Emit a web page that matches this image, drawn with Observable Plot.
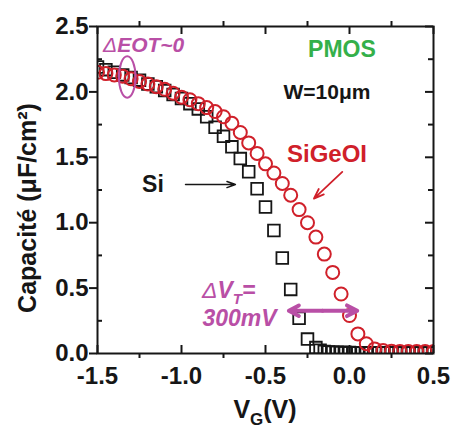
<!DOCTYPE html>
<html><head><meta charset="utf-8">
<script src="https://cdn.jsdelivr.net/npm/d3@7"></script>
<script src="https://cdn.jsdelivr.net/npm/@observablehq/plot@0.6"></script>
<style>body{margin:0;background:#fff}#chart svg{display:block}</style>
</head><body><div id="chart"></div>
<script>
// ---- data ----
const vgSi = [-1.5,-1.45,-1.4,-1.35,-1.3,-1.25,-1.2,-1.15,-1.1,-1.05,-1.0,-0.95,-0.9,-0.85,-0.8,-0.75,-0.7,-0.65,-0.6,-0.55,-0.5,-0.45,-0.4,-0.35,-0.3,-0.25,-0.2,
  -0.175,-0.15,-0.125,-0.1,-0.075,-0.05,-0.025,0,0.025,0.05,0.075,0.1,0.125,0.15,0.175,0.2,0.225,0.25,0.275,0.3,0.325,0.35,0.375,0.4,0.425,0.45,0.475,0.5];
const capSi = [2.19,2.17,2.15,2.13,2.11,2.09,2.06,2.04,2.01,1.98,1.95,1.91,1.87,1.81,1.73,1.66,1.58,1.49,1.39,1.26,1.12,0.94,0.73,0.49,0.27,0.11,0.045,
  0.025,0.016,0.012,0.010,0.009,0.008,0.007,0.007,0.006,0.006,0.006,0.005,0.005,0.005,0.005,0.005,0.005,0.005,0.005,0.005,0.005,0.005,0.005,0.005,0.005,0.005,0.005,0.005];
const vgSiGeOI = [-1.5,-1.45,-1.4,-1.35,-1.3,-1.25,-1.2,-1.15,-1.1,-1.05,-1.0,-0.95,-0.9,-0.85,-0.8,-0.75,-0.7,-0.65,-0.6,-0.55,-0.5,-0.45,-0.4,-0.35,-0.3,-0.25,-0.2,-0.15,-0.1,-0.05,0,0.05,0.1,0.15,0.2,0.25,0.3,0.35,0.4,0.45,0.5];
const capSiGeOI = [2.15,2.14,2.13,2.12,2.10,2.08,2.06,2.04,2.02,1.99,1.96,1.94,1.91,1.88,1.85,1.81,1.76,1.69,1.61,1.53,1.45,1.38,1.30,1.21,1.10,1.00,0.89,0.76,0.62,0.455,0.29,0.15,0.075,0.035,0.022,0.018,0.016,0.015,0.015,0.015,0.015];
const xTicks = [-1.5,-1.0,-0.5,0.0,0.5];
const xMinor = [-1.25,-0.75,-0.25,0.25];
const yTicks = [0.0,0.5,1.0,1.5,2.0,2.5];
const yMinor = [0.25,0.75,1.25,1.75,2.25];
const seriesLabels = ["Si","SiGeOI"];
const yLabel = "Capacité (μF/cm²)";

// ---- styling ----
const RED = "#d0202a", MAG = "#b94fa6", GREEN = "#34b04a", INK = "#161616";
const W = 453, H = 426, ML = 97, MR = 20, MT = 26, MB = 73;
const FW = W - ML - MR, FH = H - MT - MB;
const FONT = "'Liberation Sans', Arial, Helvetica, sans-serif";

const si = vgSi.map((v, i) => ({vg: v, c: capSi[i]}));
const sige = vgSiGeOI.map((v, i) => ({vg: v, c: capSiGeOI[i]}));

const chart = Plot.plot({
  width: W, height: H,
  marginLeft: ML, marginRight: MR, marginTop: MT, marginBottom: MB,
  x: {domain: [-1.5, 0.5]},
  y: {domain: [0, 2.5]},
  style: {fontFamily: FONT, fontSize: "24px", fontWeight: "bold", color: INK, background: "#fff"},
  marks: [
    Plot.dot(si, {x: "vg", y: "c", symbol: "square", r: 6.6, stroke: INK, strokeWidth: 1.8, fill: "none", clip: true}),
    Plot.dot(sige, {x: "vg", y: "c", r: 6.5, stroke: RED, strokeWidth: 2, fill: "none", clip: true}),
    Plot.frame({stroke: INK, strokeWidth: 2}),
    // bottom ticks
    Plot.tickX(xTicks, {x: d => d, insetTop: FH - 8, stroke: INK, strokeWidth: 2}),
    Plot.tickX(xMinor, {x: d => d, insetTop: FH, insetBottom: -5, stroke: INK, strokeWidth: 2}),
    // top ticks
    Plot.tickX(xTicks, {x: d => d, insetBottom: FH - 8, stroke: INK, strokeWidth: 2}),
    Plot.tickX(xMinor, {x: d => d, insetBottom: FH, insetTop: -5, stroke: INK, strokeWidth: 2}),
    // left ticks
    Plot.tickY(yTicks, {y: d => d, insetLeft: -8, insetRight: FW, stroke: INK, strokeWidth: 2}),
    Plot.tickY(yMinor, {y: d => d, insetRight: FW - 5, stroke: INK, strokeWidth: 2}),
    // right ticks
    Plot.tickY(yTicks, {y: d => d, insetLeft: FW - 8, stroke: INK, strokeWidth: 2}),
    Plot.tickY(yMinor, {y: d => d, insetLeft: FW - 5, stroke: INK, strokeWidth: 2}),
    Plot.axisX({ticks: xTicks, tickSize: 0, tickPadding: 13, tickFormat: d => d.toFixed(1), label: null}),
    Plot.axisY({ticks: yTicks, tickSize: 0, tickPadding: 9, tickFormat: d => d.toFixed(1), label: null}),
    Plot.text([yLabel], {text: d => d, frameAnchor: "left", textAnchor: "middle", rotate: -90, dx: -70, dy: 18, fontSize: 25, fontWeight: "bold", fill: INK}),
    // annotations
    Plot.text(["PMOS"], {x: -0.045, y: 2.324, text: d => d, fontSize: 23, fontWeight: "bold", fill: GREEN}),
    Plot.text(["W=10μm"], {x: -0.134, y: 1.997, text: d => d, fontSize: 21, fontWeight: "bold", fill: INK}),
    Plot.text([seriesLabels[1]], {x: -0.134, y: 1.521, text: d => d, fontSize: 24, fontWeight: "bold", fill: RED}),
    Plot.text([seriesLabels[0]], {x: -1.170, y: 1.289, text: d => d, fontSize: 23, fontWeight: "bold", fill: INK}),
    Plot.text(["300mV"], {x: -0.875, y: 0.269, text: d => d, textAnchor: "start", fontSize: 23, fontWeight: "bold", fontStyle: "italic", fill: MAG}),
    Plot.arrow([0], {x1: -0.976, y1: 1.292, x2: -0.679, y2: 1.292, stroke: INK, strokeWidth: 1.5, headLength: 9, headAngle: 40}),
    Plot.arrow([0], {x1: -0.043, y1: 1.388, x2: -0.212, y2: 1.184, stroke: RED, strokeWidth: 1.8, headLength: 9, headAngle: 40}),
    Plot.arrow([0], {x1: -0.16, y1: 0.327, x2: -0.361, y2: 0.327, stroke: MAG, strokeWidth: 4, headLength: 11, headAngle: 55}),
    Plot.arrow([0], {x1: -0.16, y1: 0.327, x2: 0.046, y2: 0.327, stroke: MAG, strokeWidth: 4, headLength: 11, headAngle: 55})
  ]
});
document.getElementById("chart").appendChild(chart);

const xs = chart.scale("x"), ys = chart.scale("y");
const svg = d3.select(chart);
// ellipse marking ΔEOT
svg.append("ellipse").attr("cx", xs.apply(-1.32)).attr("cy", ys.apply(2.11)).attr("rx", 8.3).attr("ry", 20.8)
  .attr("fill", "none").attr("stroke", MAG).attr("stroke-width", 2);
// ΔEOT~0
const t1 = svg.append("text").attr("x", xs.apply(-1.464)).attr("y", ys.apply(2.30)).attr("text-anchor", "start")
  .attr("font-family", FONT).attr("font-size", 21).attr("font-weight", "bold").attr("font-style", "italic").attr("fill", MAG);
t1.append("tspan").attr("font-weight", "normal").text("Δ");
t1.append("tspan").text("EOT~0");
// ΔVT=
const t2 = svg.append("text").attr("x", xs.apply(-0.875)).attr("y", ys.apply(0.42)).attr("text-anchor", "start")
  .attr("font-family", FONT).attr("font-size", 23).attr("font-weight", "bold").attr("font-style", "italic").attr("fill", MAG);
t2.append("tspan").attr("font-weight", "normal").text("Δ");
t2.append("tspan").text("V");
t2.append("tspan").attr("font-size", 15).attr("dy", 6).text("T");
t2.append("tspan").attr("dy", -6).text("=");
// x label VG(V)
const t3 = svg.append("text").attr("x", (xs.apply(-1.5) + xs.apply(0.5)) / 2).attr("y", 418).attr("text-anchor", "middle")
  .attr("font-family", FONT).attr("font-size", 25).attr("font-weight", "bold").attr("fill", INK);
t3.append("tspan").text("V");
t3.append("tspan").attr("font-size", 17).attr("dy", 7).text("G");
t3.append("tspan").attr("dy", -7).text("(V)");
</script>
</body></html>
